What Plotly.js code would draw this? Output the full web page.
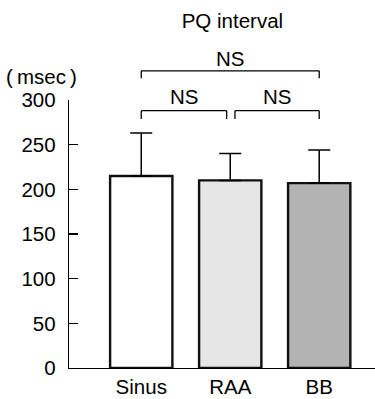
<!DOCTYPE html>
<html>
<head>
<meta charset="utf-8">
<script src="https://cdn.plot.ly/plotly-3.0.1.min.js"></script>
<style>html,body{margin:0;padding:0;background:#fff;}#chart{width:375px;height:399px;}</style>
</head>
<body>
<div id="chart"></div>
<script>
var categories = ['Sinus', 'RAA', 'BB'];
var means = [215, 210, 207];
var sdUpper = [48, 30, 37];
var barColors = ['#ffffff', '#e6e6e6', '#b3b3b3'];
var yTicks = [0, 50, 100, 150, 200, 250, 300];
var comparisons = [
  {from: 0, to: 2, label: 'NS', level: 'top'},
  {from: 0, to: 0.96, label: 'NS', level: 'low'},
  {from: 1.053, to: 2, label: 'NS', level: 'low'}
];

var FONT = 'Liberation Sans, Arial, Helvetica, sans-serif';
var FS = 20.5;
var levels = {top: {bar: 1.109, tip: 1.081, text: 1.155}, low: {bar: 0.960, tip: 0.929, text: 1.012}};

var shapes = [];
var annotations = [];
comparisons.forEach(function (c) {
  var L = levels[c.level];
  shapes.push({type: 'line', xref: 'x', yref: 'paper', x0: c.from, x1: c.to, y0: L.bar, y1: L.bar, line: {color: '#000', width: 1.3}});
  shapes.push({type: 'line', xref: 'x', yref: 'paper', x0: c.from, x1: c.from, y0: L.bar, y1: L.tip, line: {color: '#000', width: 1.3}});
  shapes.push({type: 'line', xref: 'x', yref: 'paper', x0: c.to, x1: c.to, y0: L.bar, y1: L.tip, line: {color: '#000', width: 1.3}});
  annotations.push({xref: 'x', yref: 'paper', x: (c.from + c.to) / 2, y: L.text, text: c.label, showarrow: false, xanchor: 'center', yanchor: 'middle', font: {family: FONT, size: FS, color: '#000'}});
});
annotations.push({xref: 'paper', yref: 'paper', x: -0.0915, y: 1.086, text: '(\u2009msec\u2009)', showarrow: false, xanchor: 'center', yanchor: 'middle', font: {family: FONT, size: FS, color: '#000'}});

var trace = {
  type: 'bar',
  x: [0, 1, 2],
  y: means,
  width: 0.70,
  marker: {color: barColors, line: {color: '#111', width: 2.4}},
  error_y: {type: 'data', symmetric: false, array: sdUpper, arrayminus: [0, 0, 0], color: '#000', thickness: 1.5, width: 11},
  hoverinfo: 'none'
};

var layout = {
  width: 375, height: 399,
  margin: {l: 69, r: 0, t: 100, b: 31, pad: 0},
  paper_bgcolor: '#fff', plot_bgcolor: '#fff',
  showlegend: false,
  font: {family: FONT, size: FS, color: '#000'},
  title: {text: 'PQ interval', x: 0.534, xref: 'paper', xanchor: 'center', y: 0.9466, yref: 'container', yanchor: 'middle', font: {family: FONT, size: FS, color: '#000'}},
  xaxis: {
    range: [-0.812, 2.627],
    tickmode: 'array', tickvals: [0, 1, 2], ticktext: categories,
    ticks: '', showline: true, linecolor: '#000', linewidth: 1.3,
    showgrid: false, zeroline: false, fixedrange: true,
    tickfont: {family: FONT, size: FS, color: '#000'}
  },
  yaxis: {
    range: [0, 300],
    tickmode: 'array', tickvals: yTicks, ticktext: yTicks.map(String),
    ticks: 'inside', ticklen: 9, tickwidth: 1.3, tickcolor: '#000',
    showline: true, linecolor: '#000', linewidth: 1.3,
    showgrid: false, zeroline: false, fixedrange: true,
    ticklabelstandoff: 8,
    tickfont: {family: FONT, size: FS, color: '#000'}
  },
  shapes: shapes,
  annotations: annotations
};

Plotly.newPlot('chart', [trace], layout, {displayModeBar: false, staticPlot: true});
</script>
</body>
</html>
